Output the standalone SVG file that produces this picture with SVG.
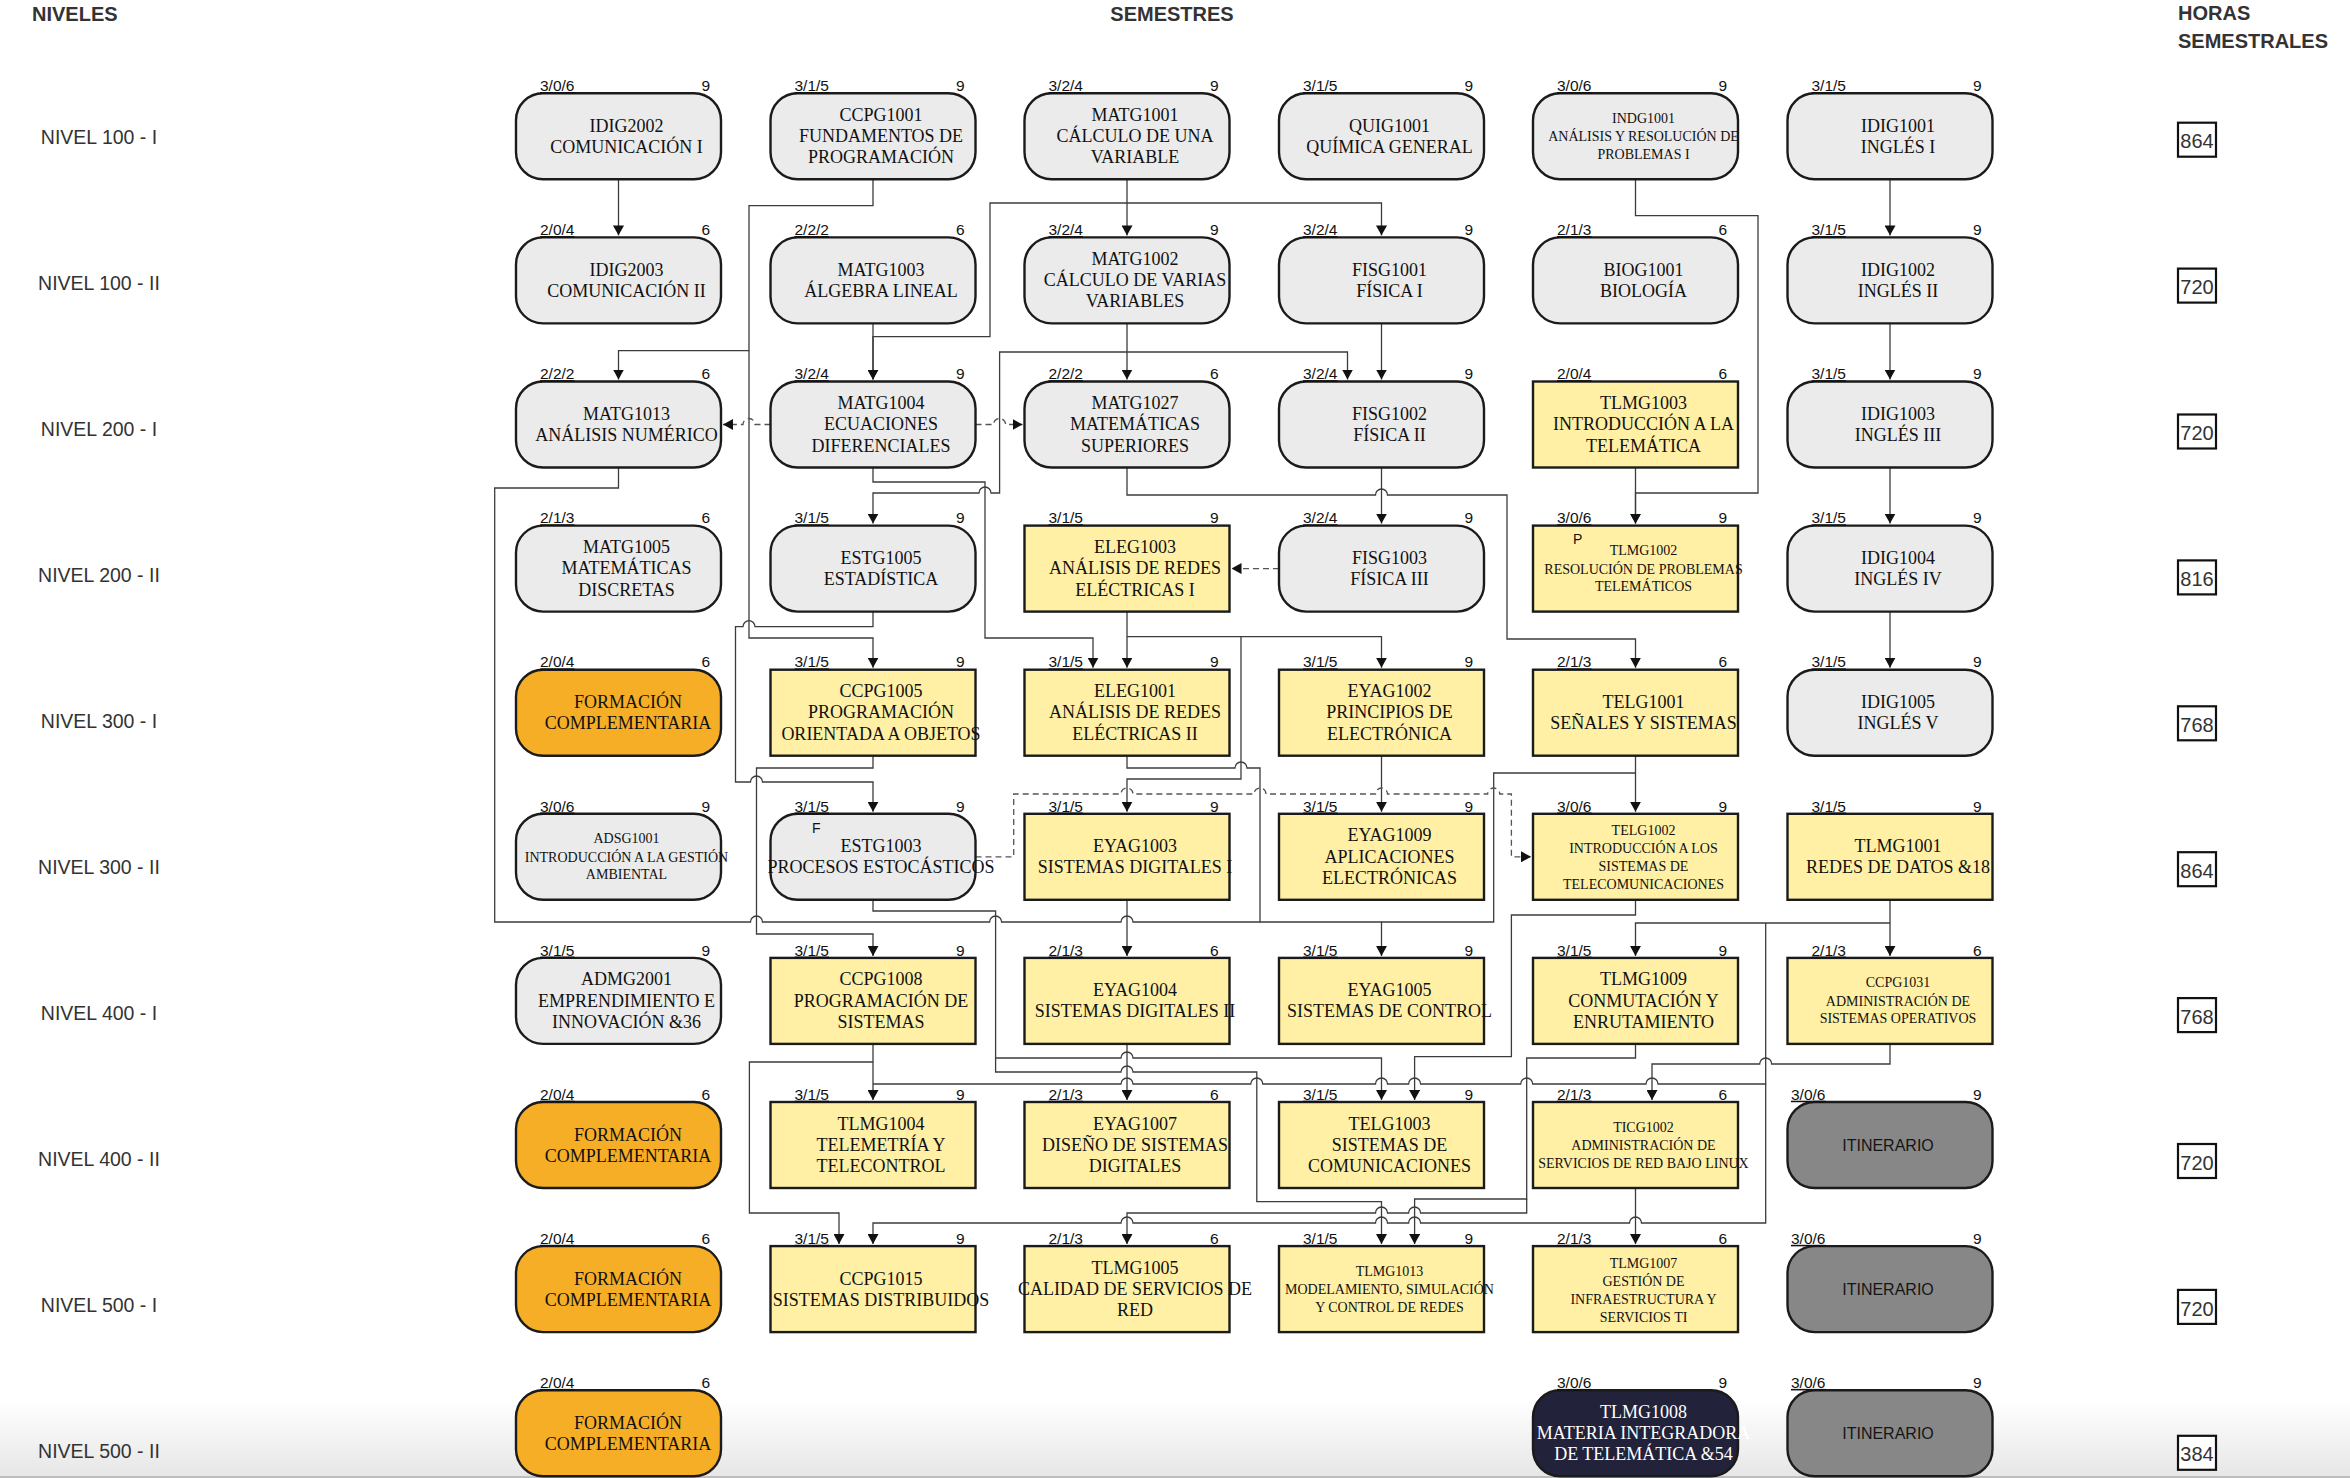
<svg xmlns="http://www.w3.org/2000/svg" width="2350" height="1478" viewBox="0 0 2350 1478">
<style>
.bx{stroke:#1b1b1b;stroke-width:2.4}
.gray{fill:#ebebeb}.yel{fill:#fff0a6}.org{fill:#f7ae27}.itin{fill:#878787}.navy{fill:#23223b}
.t{font-family:"Liberation Serif","Times New Roman",serif;font-size:18px;fill:#111;text-anchor:middle}
.s{font-size:14px}
.w{fill:#fff}
.it{font-family:"Liberation Sans",Arial,sans-serif;font-size:16px;fill:#151515;text-anchor:middle}
.cr{font-family:"Liberation Sans",Arial,sans-serif;font-size:15.5px;fill:#111}
.cl{text-decoration:underline}
.ce{text-anchor:end}
.mk{font-family:"Liberation Sans",Arial,sans-serif;font-size:14px;fill:#111}
.lv{font-family:"Liberation Sans",Arial,sans-serif;font-size:19.5px;fill:#333;text-anchor:middle}
.hd{font-family:"Liberation Sans",Arial,sans-serif;font-size:20px;font-weight:bold;fill:#333}
.hb{fill:#fff;stroke:#111;stroke-width:2.2}
.ht{font-family:"Liberation Sans",Arial,sans-serif;font-size:20px;fill:#333;text-anchor:middle}
.c{fill:none;stroke:#3c3c3c;stroke-width:1.3}
.d{stroke-dasharray:6 4;stroke:#555}
</style>
<defs>
<marker id="ar" viewBox="0 0 10 11" refX="10" refY="5.5" markerWidth="10" markerHeight="11" markerUnits="userSpaceOnUse" orient="auto"><path d="M0,0 L10,5.5 L0,11 z" fill="#111"/></marker>
<linearGradient id="bg" x1="0" y1="0" x2="0" y2="1"><stop offset="0" stop-color="#ffffff"/><stop offset="1" stop-color="#e6e6e6"/></linearGradient>
</defs>
<rect x="0" y="0" width="2350" height="1478" fill="#fff"/>
<rect x="0" y="1400" width="2350" height="78" fill="url(#bg)"/>
<line x1="0" y1="1477" x2="2350" y2="1477" stroke="#bdbdbd" stroke-width="2"/>

<g id="headers">
<text class="hd" x="32" y="20.5">NIVELES</text>
<text class="hd" x="1172" y="20.5" text-anchor="middle">SEMESTRES</text>
<text class="hd" x="2178" y="20">HORAS</text>
<text class="hd" x="2178" y="47.5">SEMESTRALES</text>
</g>

<g id="levels">
<text class="lv" x="99" y="144">NIVEL 100 - I</text>
<text class="lv" x="99" y="290">NIVEL 100 - II</text>
<text class="lv" x="99" y="436">NIVEL 200 - I</text>
<text class="lv" x="99" y="582">NIVEL 200 - II</text>
<text class="lv" x="99" y="728">NIVEL 300 - I</text>
<text class="lv" x="99" y="874">NIVEL 300 - II</text>
<text class="lv" x="99" y="1020">NIVEL 400 - I</text>
<text class="lv" x="99" y="1166">NIVEL 400 - II</text>
<text class="lv" x="99" y="1312">NIVEL 500 - I</text>
<text class="lv" x="99" y="1458">NIVEL 500 - II</text>
</g>

<g id="hours">
<rect class="hb" x="2178" y="122.7" width="38" height="34"/><text class="ht" x="2197" y="148.3">864</text>
<rect class="hb" x="2178" y="268.6" width="38" height="34"/><text class="ht" x="2197" y="294.2">720</text>
<rect class="hb" x="2178" y="414.5" width="38" height="34"/><text class="ht" x="2197" y="440.1">720</text>
<rect class="hb" x="2178" y="560.4" width="38" height="34"/><text class="ht" x="2197" y="586">816</text>
<rect class="hb" x="2178" y="706.3" width="38" height="34"/><text class="ht" x="2197" y="731.9">768</text>
<rect class="hb" x="2178" y="852.2" width="38" height="34"/><text class="ht" x="2197" y="877.8">864</text>
<rect class="hb" x="2178" y="998.1" width="38" height="34"/><text class="ht" x="2197" y="1023.7">768</text>
<rect class="hb" x="2178" y="1144" width="38" height="34"/><text class="ht" x="2197" y="1169.6">720</text>
<rect class="hb" x="2178" y="1289.9" width="38" height="34"/><text class="ht" x="2197" y="1315.5">720</text>
<rect class="hb" x="2178" y="1435.8" width="38" height="34"/><text class="ht" x="2197" y="1461.4">384</text>
</g>

<g id="connectors">
<path class="c" marker-end="url(#ar)" d="M618.5,179.3 V235.4"/>
<path class="c" marker-end="url(#ar)" d="M873,179.3 V205.7 H749 V350.7 H618.5 V379.5"/>
<path class="c" marker-end="url(#ar)" d="M749,350.7 V638 H873 V667.7"/>
<path class="c" marker-end="url(#ar)" d="M1127,179.3 V235.4"/>
<path class="c" marker-end="url(#ar)" d="M1127,203 H1381.5 V235.4"/>
<path class="c" marker-end="url(#ar)" d="M1127,203 H990 V336.7 H873 V379.5"/>
<path class="c" marker-end="url(#ar)" d="M873,323.4 V379.5"/>
<path class="c" marker-end="url(#ar)" d="M1127,323.4 V379.5"/>
<path class="c" marker-end="url(#ar)" d="M1127,352 H1347.5 V379.5"/>
<path class="c" marker-end="url(#ar)" d="M1127,352 H999.6 V493 H991 a6 6 0 0 0 -12 0 H873 V523.6"/>
<path class="c" marker-end="url(#ar)" d="M873,467.5 V482 H985 V638 H1093 V667.7"/>
<path class="c d" marker-end="url(#ar)" d="M770.5,424.5 H755 a6 6 0 0 0 -12 0 H723"/>
<path class="c d" marker-end="url(#ar)" d="M975.5,424.5 H993.6 a6 6 0 0 1 12 0 H1022.5"/>
<path class="c" marker-end="url(#ar)" d="M1381.5,323.4 V379.5"/>
<path class="c" marker-end="url(#ar)" d="M1381.5,467.5 V523.6"/>
<path class="c" marker-end="url(#ar)" d="M1127,467.5 V495 H1375.5 a6 6 0 0 1 12 0 H1507 V639 H1635.5 V667.7"/>
<path class="c d" marker-end="url(#ar)" d="M1279,568.6 H1231.5"/>
<path class="c" marker-end="url(#ar)" d="M1635.5,179.3 V215.7 H1758 V493 H1635.5 V523.6"/>
<path class="c" marker-end="url(#ar)" d="M1635.5,467.5 V523.6"/>
<path class="c" marker-end="url(#ar)" d="M1890,179.3 V235.4"/>
<path class="c" marker-end="url(#ar)" d="M1890,323.4 V379.5"/>
<path class="c" marker-end="url(#ar)" d="M1890,467.5 V523.6"/>
<path class="c" marker-end="url(#ar)" d="M1890,611.6 V667.7"/>
<path class="c" marker-end="url(#ar)" d="M1127,611.6 V667.7"/>
<path class="c" marker-end="url(#ar)" d="M1127,636.7 H1381.5 V667.7"/>
<path class="c" marker-end="url(#ar)" d="M1241,636.7 V779 H1127 V811.8"/>
<path class="c" marker-end="url(#ar)" d="M1127,755.7 V768 H1235 a6 6 0 0 1 12 0 H1260 V922 H1381.5 V955.9"/>
<path class="c" d="M618.5,467.5 V488 H494.7 V922 H750.5 a6 6 0 0 1 12 0 H989.6 a6 6 0 0 1 12 0 H1121 a6 6 0 0 1 12 0 H1260"/>
<path class="c" marker-end="url(#ar)" d="M1635.5,755.7 V811.8"/>
<path class="c" d="M1635.5,773 H1493.7 V922 H1381.5"/>
<path class="c" marker-end="url(#ar)" d="M1381.5,755.7 V811.8"/>
<path class="c d" marker-end="url(#ar)" d="M975.5,856.8 H1013.7 V794 H1121 a6 6 0 0 1 12 0 H1254 a6 6 0 0 1 12 0 H1375.5 a6 6 0 0 1 12 0 H1487.7 a6 6 0 0 1 12 0 H1511.4 V856.8 H1531"/>
<path class="c" marker-end="url(#ar)" d="M873,611.6 V626.7 H755 a6 6 0 0 0 -12 0 H735.5 V782 H750.5 a6 6 0 0 1 12 0 H873 V811.8"/>
<path class="c" marker-end="url(#ar)" d="M873,755.7 V768 H756.5 V934 H873 V955.9"/>
<path class="c" marker-end="url(#ar)" d="M873,899.8 V911 H995.6 V1058 H1121 a6 6 0 0 1 12 0 H1381.5 V1100"/>
<path class="c" marker-end="url(#ar)" d="M995.6,1058 V1072 H1121 a6 6 0 0 1 12 0 H1256.8 V1201.7 H1381.5 V1244.1"/>
<path class="c" marker-end="url(#ar)" d="M873,1043.9 V1100"/>
<path class="c" marker-end="url(#ar)" d="M873,1062 H749.4 V1213 H839 V1244.1"/>
<path class="c" marker-end="url(#ar)" d="M1127,899.8 V955.9"/>
<path class="c" marker-end="url(#ar)" d="M1127,1043.9 V1100"/>
<path class="c" marker-end="url(#ar)" d="M1890,899.8 V955.9"/>
<path class="c" marker-end="url(#ar)" d="M1890,923 H1635.5 V955.9"/>
<path class="c" d="M1765.7,923 V1084 H1658 a6 6 0 0 0 -12 0 H1532.7 a6 6 0 0 0 -12 0 H1420.6 a6 6 0 0 0 -12 0 H1387.5 a6 6 0 0 0 -12 0 H1262.8 a6 6 0 0 0 -12 0 H1133 a6 6 0 0 0 -12 0 H873"/>
<path class="c" marker-end="url(#ar)" d="M1765.7,1084 V1223 H1641.5 a6 6 0 0 0 -12 0 H1420.6 a6 6 0 0 0 -12 0 H1387.5 a6 6 0 0 0 -12 0 H1133 a6 6 0 0 0 -12 0 H873 V1244.1"/>
<path class="c" marker-end="url(#ar)" d="M1890,1043.9 V1064 H1771.7 a6 6 0 0 0 -12 0 H1652 V1100"/>
<path class="c" marker-end="url(#ar)" d="M1635.5,1043.9 V1058 H1526.7 V1199 H1414.6 V1244.1"/>
<path class="c" marker-end="url(#ar)" d="M1526.7,1199 V1213 H1420.6 a6 6 0 0 0 -12 0 H1387.5 a6 6 0 0 0 -12 0 H1127 V1244.1"/>
<path class="c" marker-end="url(#ar)" d="M1635.5,1188 V1244.1"/>
<path class="c" marker-end="url(#ar)" d="M1635.5,899.8 V915 H1511.4 V1056.7 H1414.6 V1100"/>
</g>

<!-- Row 1 -->
<g id="IDIG2002"><rect class="bx gray" x="516" y="93.3" width="205" height="86" rx="27"/><text class="cr cl" x="540" y="91">3/0/6</text><text class="cr ce" x="710" y="91">9</text><text class="t" x="626.5" y="131.8">IDIG2002</text><text class="t" x="626.5" y="152.8">COMUNICACIÓN I</text></g>
<g id="CCPG1001"><rect class="bx gray" x="770.5" y="93.3" width="205" height="86" rx="27"/><text class="cr cl" x="794.5" y="91">3/1/5</text><text class="cr ce" x="964.5" y="91">9</text><text class="t" x="881" y="120.8">CCPG1001</text><text class="t" x="881" y="142">FUNDAMENTOS DE</text><text class="t" x="881" y="163.3">PROGRAMACIÓN</text></g>
<g id="MATG1001"><rect class="bx gray" x="1024.5" y="93.3" width="205" height="86" rx="27"/><text class="cr cl" x="1048.5" y="91">3/2/4</text><text class="cr ce" x="1218.5" y="91">9</text><text class="t" x="1135" y="120.8">MATG1001</text><text class="t" x="1135" y="142">CÁLCULO DE UNA</text><text class="t" x="1135" y="163.3">VARIABLE</text></g>
<g id="QUIG1001"><rect class="bx gray" x="1279" y="93.3" width="205" height="86" rx="27"/><text class="cr cl" x="1303" y="91">3/1/5</text><text class="cr ce" x="1473" y="91">9</text><text class="t" x="1389.5" y="131.8">QUIG1001</text><text class="t" x="1389.5" y="152.8">QUÍMICA GENERAL</text></g>
<g id="INDG1001"><rect class="bx gray" x="1533" y="93.3" width="205" height="86" rx="27"/><text class="cr cl" x="1557" y="91">3/0/6</text><text class="cr ce" x="1727" y="91">9</text><text class="t s" x="1643.5" y="122.8">INDG1001</text><text class="t s" x="1643.5" y="141.2">ANÁLISIS Y RESOLUCIÓN DE</text><text class="t s" x="1643.5" y="158.8">PROBLEMAS I</text></g>
<g id="IDIG1001"><rect class="bx gray" x="1787.5" y="93.3" width="205" height="86" rx="27"/><text class="cr cl" x="1811.5" y="91">3/1/5</text><text class="cr ce" x="1981.5" y="91">9</text><text class="t" x="1898" y="131.8">IDIG1001</text><text class="t" x="1898" y="152.8">INGLÉS I</text></g>

<!-- Row 2 -->
<g id="IDIG2003"><rect class="bx gray" x="516" y="237.4" width="205" height="86" rx="27"/><text class="cr cl" x="540" y="235.1">2/0/4</text><text class="cr ce" x="710" y="235.1">6</text><text class="t" x="626.5" y="275.9">IDIG2003</text><text class="t" x="626.5" y="296.9">COMUNICACIÓN II</text></g>
<g id="MATG1003"><rect class="bx gray" x="770.5" y="237.4" width="205" height="86" rx="27"/><text class="cr cl" x="794.5" y="235.1">2/2/2</text><text class="cr ce" x="964.5" y="235.1">6</text><text class="t" x="881" y="275.9">MATG1003</text><text class="t" x="881" y="296.9">ÁLGEBRA LINEAL</text></g>
<g id="MATG1002"><rect class="bx gray" x="1024.5" y="237.4" width="205" height="86" rx="27"/><text class="cr cl" x="1048.5" y="235.1">3/2/4</text><text class="cr ce" x="1218.5" y="235.1">9</text><text class="t" x="1135" y="264.9">MATG1002</text><text class="t" x="1135" y="286.1">CÁLCULO DE VARIAS</text><text class="t" x="1135" y="307.4">VARIABLES</text></g>
<g id="FISG1001"><rect class="bx gray" x="1279" y="237.4" width="205" height="86" rx="27"/><text class="cr cl" x="1303" y="235.1">3/2/4</text><text class="cr ce" x="1473" y="235.1">9</text><text class="t" x="1389.5" y="275.9">FISG1001</text><text class="t" x="1389.5" y="296.9">FÍSICA I</text></g>
<g id="BIOG1001"><rect class="bx gray" x="1533" y="237.4" width="205" height="86" rx="27"/><text class="cr cl" x="1557" y="235.1">2/1/3</text><text class="cr ce" x="1727" y="235.1">6</text><text class="t" x="1643.5" y="275.9">BIOG1001</text><text class="t" x="1643.5" y="296.9">BIOLOGÍA</text></g>
<g id="IDIG1002"><rect class="bx gray" x="1787.5" y="237.4" width="205" height="86" rx="27"/><text class="cr cl" x="1811.5" y="235.1">3/1/5</text><text class="cr ce" x="1981.5" y="235.1">9</text><text class="t" x="1898" y="275.9">IDIG1002</text><text class="t" x="1898" y="296.9">INGLÉS II</text></g>

<!-- Row 3 -->
<g id="MATG1013"><rect class="bx gray" x="516" y="381.5" width="205" height="86" rx="27"/><text class="cr cl" x="540" y="379.2">2/2/2</text><text class="cr ce" x="710" y="379.2">6</text><text class="t" x="626.5" y="420">MATG1013</text><text class="t" x="626.5" y="441">ANÁLISIS NUMÉRICO</text></g>
<g id="MATG1004"><rect class="bx gray" x="770.5" y="381.5" width="205" height="86" rx="27"/><text class="cr cl" x="794.5" y="379.2">3/2/4</text><text class="cr ce" x="964.5" y="379.2">9</text><text class="t" x="881" y="409">MATG1004</text><text class="t" x="881" y="430.2">ECUACIONES</text><text class="t" x="881" y="451.5">DIFERENCIALES</text></g>
<g id="MATG1027"><rect class="bx gray" x="1024.5" y="381.5" width="205" height="86" rx="27"/><text class="cr cl" x="1048.5" y="379.2">2/2/2</text><text class="cr ce" x="1218.5" y="379.2">6</text><text class="t" x="1135" y="409">MATG1027</text><text class="t" x="1135" y="430.2">MATEMÁTICAS</text><text class="t" x="1135" y="451.5">SUPERIORES</text></g>
<g id="FISG1002"><rect class="bx gray" x="1279" y="381.5" width="205" height="86" rx="27"/><text class="cr cl" x="1303" y="379.2">3/2/4</text><text class="cr ce" x="1473" y="379.2">9</text><text class="t" x="1389.5" y="420">FISG1002</text><text class="t" x="1389.5" y="441">FÍSICA II</text></g>
<g id="TLMG1003"><rect class="bx yel" x="1533" y="381.5" width="205" height="86"/><text class="cr cl" x="1557" y="379.2">2/0/4</text><text class="cr ce" x="1727" y="379.2">6</text><text class="t" x="1643.5" y="409">TLMG1003</text><text class="t" x="1643.5" y="430.2">INTRODUCCIÓN A LA</text><text class="t" x="1643.5" y="451.5">TELEMÁTICA</text></g>
<g id="IDIG1003"><rect class="bx gray" x="1787.5" y="381.5" width="205" height="86" rx="27"/><text class="cr cl" x="1811.5" y="379.2">3/1/5</text><text class="cr ce" x="1981.5" y="379.2">9</text><text class="t" x="1898" y="420">IDIG1003</text><text class="t" x="1898" y="441">INGLÉS III</text></g>

<!-- Row 4 -->
<g id="MATG1005"><rect class="bx gray" x="516" y="525.6" width="205" height="86" rx="27"/><text class="cr cl" x="540" y="523.3">2/1/3</text><text class="cr ce" x="710" y="523.3">6</text><text class="t" x="626.5" y="553.1">MATG1005</text><text class="t" x="626.5" y="574.3">MATEMÁTICAS</text><text class="t" x="626.5" y="595.6">DISCRETAS</text></g>
<g id="ESTG1005"><rect class="bx gray" x="770.5" y="525.6" width="205" height="86" rx="27"/><text class="cr cl" x="794.5" y="523.3">3/1/5</text><text class="cr ce" x="964.5" y="523.3">9</text><text class="t" x="881" y="564.1">ESTG1005</text><text class="t" x="881" y="585.1">ESTADÍSTICA</text></g>
<g id="ELEG1003"><rect class="bx yel" x="1024.5" y="525.6" width="205" height="86"/><text class="cr cl" x="1048.5" y="523.3">3/1/5</text><text class="cr ce" x="1218.5" y="523.3">9</text><text class="t" x="1135" y="553.1">ELEG1003</text><text class="t" x="1135" y="574.3">ANÁLISIS DE REDES</text><text class="t" x="1135" y="595.6">ELÉCTRICAS I</text></g>
<g id="FISG1003"><rect class="bx gray" x="1279" y="525.6" width="205" height="86" rx="27"/><text class="cr cl" x="1303" y="523.3">3/2/4</text><text class="cr ce" x="1473" y="523.3">9</text><text class="t" x="1389.5" y="564.1">FISG1003</text><text class="t" x="1389.5" y="585.1">FÍSICA III</text></g>
<g id="TLMG1002"><rect class="bx yel" x="1533" y="525.6" width="205" height="86"/><text class="cr cl" x="1557" y="523.3">3/0/6</text><text class="cr ce" x="1727" y="523.3">9</text><text class="mk" x="1573" y="544">P</text><text class="t s" x="1643.5" y="555.1">TLMG1002</text><text class="t s" x="1643.5" y="573.5">RESOLUCIÓN DE PROBLEMAS</text><text class="t s" x="1643.5" y="591.1">TELEMÁTICOS</text></g>
<g id="IDIG1004"><rect class="bx gray" x="1787.5" y="525.6" width="205" height="86" rx="27"/><text class="cr cl" x="1811.5" y="523.3">3/1/5</text><text class="cr ce" x="1981.5" y="523.3">9</text><text class="t" x="1898" y="564.1">IDIG1004</text><text class="t" x="1898" y="585.1">INGLÉS IV</text></g>

<!-- Row 5 -->
<g id="FC-300-I"><rect class="bx org" x="516" y="669.7" width="205" height="86" rx="27"/><text class="cr cl" x="540" y="667.4">2/0/4</text><text class="cr ce" x="710" y="667.4">6</text><text class="t" x="628" y="708.2">FORMACIÓN</text><text class="t" x="628" y="729.2">COMPLEMENTARIA</text></g>
<g id="CCPG1005"><rect class="bx yel" x="770.5" y="669.7" width="205" height="86"/><text class="cr cl" x="794.5" y="667.4">3/1/5</text><text class="cr ce" x="964.5" y="667.4">9</text><text class="t" x="881" y="697.2">CCPG1005</text><text class="t" x="881" y="718.4">PROGRAMACIÓN</text><text class="t" x="881" y="739.7">ORIENTADA A OBJETOS</text></g>
<g id="ELEG1001"><rect class="bx yel" x="1024.5" y="669.7" width="205" height="86"/><text class="cr cl" x="1048.5" y="667.4">3/1/5</text><text class="cr ce" x="1218.5" y="667.4">9</text><text class="t" x="1135" y="697.2">ELEG1001</text><text class="t" x="1135" y="718.4">ANÁLISIS DE REDES</text><text class="t" x="1135" y="739.7">ELÉCTRICAS II</text></g>
<g id="EYAG1002"><rect class="bx yel" x="1279" y="669.7" width="205" height="86"/><text class="cr cl" x="1303" y="667.4">3/1/5</text><text class="cr ce" x="1473" y="667.4">9</text><text class="t" x="1389.5" y="697.2">EYAG1002</text><text class="t" x="1389.5" y="718.4">PRINCIPIOS DE</text><text class="t" x="1389.5" y="739.7">ELECTRÓNICA</text></g>
<g id="TELG1001"><rect class="bx yel" x="1533" y="669.7" width="205" height="86"/><text class="cr cl" x="1557" y="667.4">2/1/3</text><text class="cr ce" x="1727" y="667.4">6</text><text class="t" x="1643.5" y="708.2">TELG1001</text><text class="t" x="1643.5" y="729.2">SEÑALES Y SISTEMAS</text></g>
<g id="IDIG1005"><rect class="bx gray" x="1787.5" y="669.7" width="205" height="86" rx="27"/><text class="cr cl" x="1811.5" y="667.4">3/1/5</text><text class="cr ce" x="1981.5" y="667.4">9</text><text class="t" x="1898" y="708.2">IDIG1005</text><text class="t" x="1898" y="729.2">INGLÉS V</text></g>

<!-- Row 6 -->
<g id="ADSG1001"><rect class="bx gray" x="516" y="813.8" width="205" height="86" rx="27"/><text class="cr cl" x="540" y="811.5">3/0/6</text><text class="cr ce" x="710" y="811.5">9</text><text class="t s" x="626.5" y="843.3">ADSG1001</text><text class="t s" x="626.5" y="861.7">INTRODUCCIÓN A LA GESTIÓN</text><text class="t s" x="626.5" y="879.3">AMBIENTAL</text></g>
<g id="ESTG1003"><rect class="bx gray" x="770.5" y="813.8" width="205" height="86" rx="27"/><text class="cr cl" x="794.5" y="811.5">3/1/5</text><text class="cr ce" x="964.5" y="811.5">9</text><text class="mk" x="812" y="833">F</text><text class="t" x="881" y="852.3">ESTG1003</text><text class="t" x="881" y="873.3">PROCESOS ESTOCÁSTICOS</text></g>
<g id="EYAG1003"><rect class="bx yel" x="1024.5" y="813.8" width="205" height="86"/><text class="cr cl" x="1048.5" y="811.5">3/1/5</text><text class="cr ce" x="1218.5" y="811.5">9</text><text class="t" x="1135" y="852.3">EYAG1003</text><text class="t" x="1135" y="873.3">SISTEMAS DIGITALES I</text></g>
<g id="EYAG1009"><rect class="bx yel" x="1279" y="813.8" width="205" height="86"/><text class="cr cl" x="1303" y="811.5">3/1/5</text><text class="cr ce" x="1473" y="811.5">9</text><text class="t" x="1389.5" y="841.3">EYAG1009</text><text class="t" x="1389.5" y="862.5">APLICACIONES</text><text class="t" x="1389.5" y="883.8">ELECTRÓNICAS</text></g>
<g id="TELG1002"><rect class="bx yel" x="1533" y="813.8" width="205" height="86"/><text class="cr cl" x="1557" y="811.5">3/0/6</text><text class="cr ce" x="1727" y="811.5">9</text><text class="t s" x="1643.5" y="835.3">TELG1002</text><text class="t s" x="1643.5" y="853.3">INTRODUCCIÓN A LOS</text><text class="t s" x="1643.5" y="871.3">SISTEMAS DE</text><text class="t s" x="1643.5" y="889.3">TELECOMUNICACIONES</text></g>
<g id="TLMG1001"><rect class="bx yel" x="1787.5" y="813.8" width="205" height="86"/><text class="cr cl" x="1811.5" y="811.5">3/1/5</text><text class="cr ce" x="1981.5" y="811.5">9</text><text class="t" x="1898" y="852.3">TLMG1001</text><text class="t" x="1898" y="873.3">REDES DE DATOS  &amp;18</text></g>

<!-- Row 7 -->
<g id="ADMG2001"><rect class="bx gray" x="516" y="957.9" width="205" height="86" rx="27"/><text class="cr cl" x="540" y="955.6">3/1/5</text><text class="cr ce" x="710" y="955.6">9</text><text class="t" x="626.5" y="985.4">ADMG2001</text><text class="t" x="626.5" y="1006.6">EMPRENDIMIENTO E</text><text class="t" x="626.5" y="1027.9">INNOVACIÓN  &amp;36</text></g>
<g id="CCPG1008"><rect class="bx yel" x="770.5" y="957.9" width="205" height="86"/><text class="cr cl" x="794.5" y="955.6">3/1/5</text><text class="cr ce" x="964.5" y="955.6">9</text><text class="t" x="881" y="985.4">CCPG1008</text><text class="t" x="881" y="1006.6">PROGRAMACIÓN DE</text><text class="t" x="881" y="1027.9">SISTEMAS</text></g>
<g id="EYAG1004"><rect class="bx yel" x="1024.5" y="957.9" width="205" height="86"/><text class="cr cl" x="1048.5" y="955.6">2/1/3</text><text class="cr ce" x="1218.5" y="955.6">6</text><text class="t" x="1135" y="996.4">EYAG1004</text><text class="t" x="1135" y="1017.4">SISTEMAS DIGITALES II</text></g>
<g id="EYAG1005"><rect class="bx yel" x="1279" y="957.9" width="205" height="86"/><text class="cr cl" x="1303" y="955.6">3/1/5</text><text class="cr ce" x="1473" y="955.6">9</text><text class="t" x="1389.5" y="996.4">EYAG1005</text><text class="t" x="1389.5" y="1017.4">SISTEMAS DE CONTROL</text></g>
<g id="TLMG1009"><rect class="bx yel" x="1533" y="957.9" width="205" height="86"/><text class="cr cl" x="1557" y="955.6">3/1/5</text><text class="cr ce" x="1727" y="955.6">9</text><text class="t" x="1643.5" y="985.4">TLMG1009</text><text class="t" x="1643.5" y="1006.6">CONMUTACIÓN Y</text><text class="t" x="1643.5" y="1027.9">ENRUTAMIENTO</text></g>
<g id="CCPG1031"><rect class="bx yel" x="1787.5" y="957.9" width="205" height="86"/><text class="cr cl" x="1811.5" y="955.6">2/1/3</text><text class="cr ce" x="1981.5" y="955.6">6</text><text class="t s" x="1898" y="987.4">CCPG1031</text><text class="t s" x="1898" y="1005.8">ADMINISTRACIÓN DE</text><text class="t s" x="1898" y="1023.4">SISTEMAS OPERATIVOS</text></g>

<!-- Row 8 -->
<g id="FC-400-II"><rect class="bx org" x="516" y="1102" width="205" height="86" rx="27"/><text class="cr cl" x="540" y="1099.7">2/0/4</text><text class="cr ce" x="710" y="1099.7">6</text><text class="t" x="628" y="1140.5">FORMACIÓN</text><text class="t" x="628" y="1161.5">COMPLEMENTARIA</text></g>
<g id="TLMG1004"><rect class="bx yel" x="770.5" y="1102" width="205" height="86"/><text class="cr cl" x="794.5" y="1099.7">3/1/5</text><text class="cr ce" x="964.5" y="1099.7">9</text><text class="t" x="881" y="1129.5">TLMG1004</text><text class="t" x="881" y="1150.7">TELEMETRÍA Y</text><text class="t" x="881" y="1172">TELECONTROL</text></g>
<g id="EYAG1007"><rect class="bx yel" x="1024.5" y="1102" width="205" height="86"/><text class="cr cl" x="1048.5" y="1099.7">2/1/3</text><text class="cr ce" x="1218.5" y="1099.7">6</text><text class="t" x="1135" y="1129.5">EYAG1007</text><text class="t" x="1135" y="1150.7">DISEÑO DE SISTEMAS</text><text class="t" x="1135" y="1172">DIGITALES</text></g>
<g id="TELG1003"><rect class="bx yel" x="1279" y="1102" width="205" height="86"/><text class="cr cl" x="1303" y="1099.7">3/1/5</text><text class="cr ce" x="1473" y="1099.7">9</text><text class="t" x="1389.5" y="1129.5">TELG1003</text><text class="t" x="1389.5" y="1150.7">SISTEMAS DE</text><text class="t" x="1389.5" y="1172">COMUNICACIONES</text></g>
<g id="TICG1002"><rect class="bx yel" x="1533" y="1102" width="205" height="86"/><text class="cr cl" x="1557" y="1099.7">2/1/3</text><text class="cr ce" x="1727" y="1099.7">6</text><text class="t s" x="1643.5" y="1131.5">TICG1002</text><text class="t s" x="1643.5" y="1149.9">ADMINISTRACIÓN DE</text><text class="t s" x="1643.5" y="1167.5">SERVICIOS DE RED BAJO LINUX</text></g>
<g id="ITIN-400-II"><rect class="bx itin" x="1787.5" y="1102" width="205" height="86" rx="27"/><text class="cr cl" x="1791" y="1099.7">3/0/6</text><text class="cr ce" x="1981.5" y="1099.7">9</text><text class="it" x="1888" y="1151">ITINERARIO</text></g>

<!-- Row 9 -->
<g id="FC-500-I"><rect class="bx org" x="516" y="1246.1" width="205" height="86" rx="27"/><text class="cr cl" x="540" y="1243.8">2/0/4</text><text class="cr ce" x="710" y="1243.8">6</text><text class="t" x="628" y="1284.6">FORMACIÓN</text><text class="t" x="628" y="1305.6">COMPLEMENTARIA</text></g>
<g id="CCPG1015"><rect class="bx yel" x="770.5" y="1246.1" width="205" height="86"/><text class="cr cl" x="794.5" y="1243.8">3/1/5</text><text class="cr ce" x="964.5" y="1243.8">9</text><text class="t" x="881" y="1284.6">CCPG1015</text><text class="t" x="881" y="1305.6">SISTEMAS DISTRIBUIDOS</text></g>
<g id="TLMG1005"><rect class="bx yel" x="1024.5" y="1246.1" width="205" height="86"/><text class="cr cl" x="1048.5" y="1243.8">2/1/3</text><text class="cr ce" x="1218.5" y="1243.8">6</text><text class="t" x="1135" y="1273.6">TLMG1005</text><text class="t" x="1135" y="1294.8">CALIDAD DE SERVICIOS DE</text><text class="t" x="1135" y="1316.1">RED</text></g>
<g id="TLMG1013"><rect class="bx yel" x="1279" y="1246.1" width="205" height="86"/><text class="cr cl" x="1303" y="1243.8">3/1/5</text><text class="cr ce" x="1473" y="1243.8">9</text><text class="t s" x="1389.5" y="1275.6">TLMG1013</text><text class="t s" x="1389.5" y="1294">MODELAMIENTO, SIMULACIÓN</text><text class="t s" x="1389.5" y="1311.6">Y CONTROL DE REDES</text></g>
<g id="TLMG1007"><rect class="bx yel" x="1533" y="1246.1" width="205" height="86"/><text class="cr cl" x="1557" y="1243.8">2/1/3</text><text class="cr ce" x="1727" y="1243.8">6</text><text class="t s" x="1643.5" y="1267.6">TLMG1007</text><text class="t s" x="1643.5" y="1285.6">GESTIÓN DE</text><text class="t s" x="1643.5" y="1303.6">INFRAESTRUCTURA Y</text><text class="t s" x="1643.5" y="1321.6">SERVICIOS TI</text></g>
<g id="ITIN-500-I"><rect class="bx itin" x="1787.5" y="1246.1" width="205" height="86" rx="27"/><text class="cr cl" x="1791" y="1243.8">3/0/6</text><text class="cr ce" x="1981.5" y="1243.8">9</text><text class="it" x="1888" y="1295.1">ITINERARIO</text></g>

<!-- Row 10 -->
<g id="FC-500-II"><rect class="bx org" x="516" y="1390.2" width="205" height="86" rx="27"/><text class="cr cl" x="540" y="1387.9">2/0/4</text><text class="cr ce" x="710" y="1387.9">6</text><text class="t" x="628" y="1428.7">FORMACIÓN</text><text class="t" x="628" y="1449.7">COMPLEMENTARIA</text></g>
<g id="TLMG1008"><rect class="bx navy" x="1533" y="1390.2" width="205" height="86" rx="27"/><text class="cr cl" x="1557" y="1387.9">3/0/6</text><text class="cr ce" x="1727" y="1387.9">9</text><text class="t w" x="1643.5" y="1417.7">TLMG1008</text><text class="t w" x="1643.5" y="1438.9">MATERIA INTEGRADORA</text><text class="t w" x="1643.5" y="1460.2">DE TELEMÁTICA &amp;54</text></g>
<g id="ITIN-500-II"><rect class="bx itin" x="1787.5" y="1390.2" width="205" height="86" rx="27"/><text class="cr cl" x="1791" y="1387.9">3/0/6</text><text class="cr ce" x="1981.5" y="1387.9">9</text><text class="it" x="1888" y="1439.2">ITINERARIO</text></g>
</svg>
